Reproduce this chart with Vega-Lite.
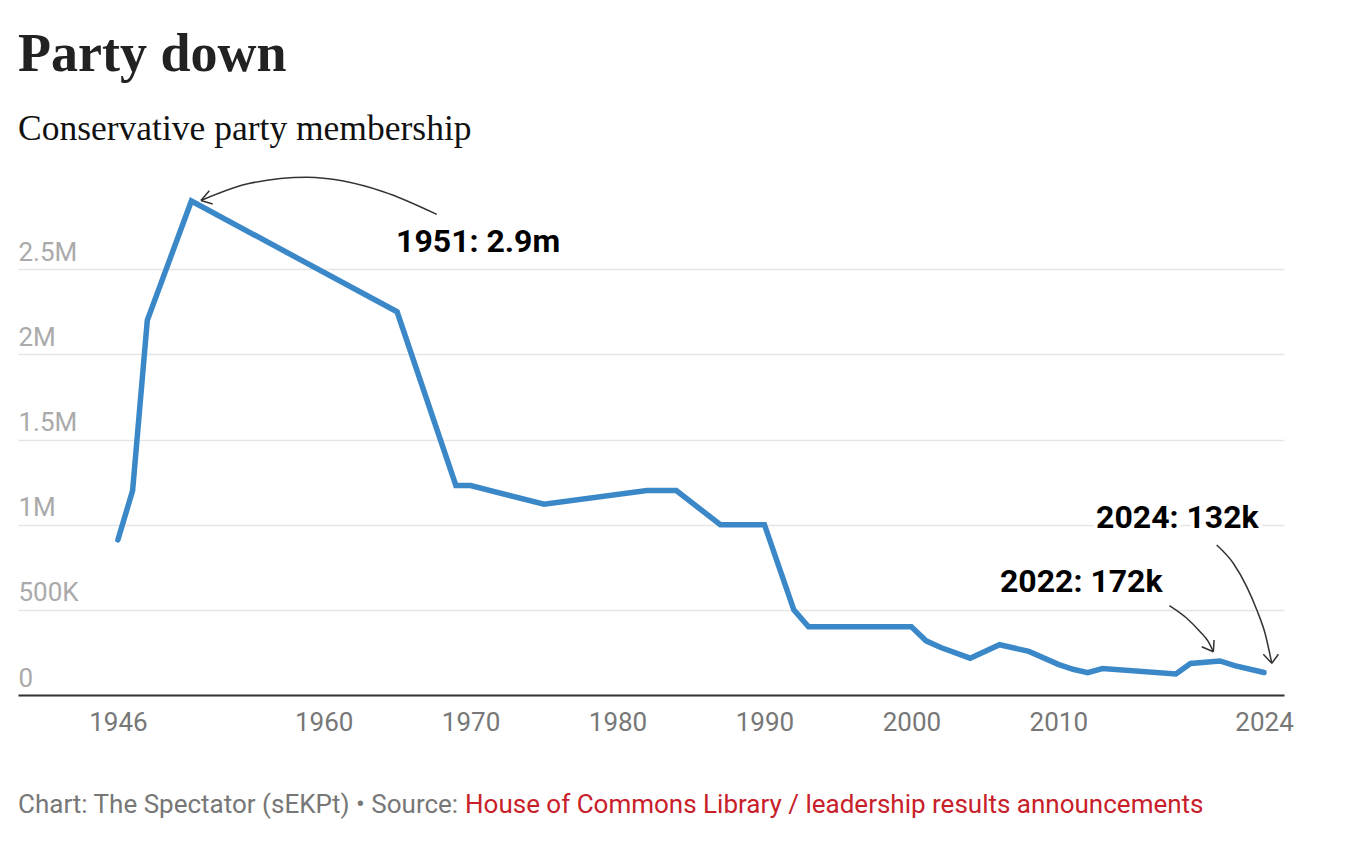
{
  "$schema": "https://vega.github.io/schema/vega-lite/v6.json",
  "width": 1266,
  "height": 511,
  "autosize": {"type": "none"},
  "padding": {"left": 18, "top": 184, "right": 68, "bottom": 165},
  "background": "white",
  "title": {
    "text": "Party down",
    "subtitle": "Conservative party membership",
    "anchor": "start",
    "frame": "group",
    "font": "Liberation Serif",
    "fontSize": 54,
    "fontWeight": "bold",
    "color": "#222222",
    "subtitleFont": "Liberation Serif",
    "subtitleFontSize": 35.5,
    "subtitleColor": "#111111",
    "subtitlePadding": 30,
    "offset": 27
  },
  "config": {"view": {"stroke": null}},
  "datasets": {
    "members": [
      {"year": 1946, "value": 911000},
      {"year": 1947, "value": 1200000},
      {"year": 1948, "value": 2200000},
      {"year": 1951, "value": 2900000},
      {"year": 1965, "value": 2250000},
      {"year": 1969, "value": 1230000},
      {"year": 1970, "value": 1230000},
      {"year": 1975, "value": 1120000},
      {"year": 1982, "value": 1200000},
      {"year": 1984, "value": 1200000},
      {"year": 1987, "value": 1000000},
      {"year": 1990, "value": 1000000},
      {"year": 1992, "value": 500000},
      {"year": 1993, "value": 400000},
      {"year": 2000, "value": 400000},
      {"year": 2001, "value": 318000},
      {"year": 2002, "value": 279000},
      {"year": 2004, "value": 216000},
      {"year": 2006, "value": 295000},
      {"year": 2008, "value": 256000},
      {"year": 2010, "value": 180000},
      {"year": 2011, "value": 151000},
      {"year": 2012, "value": 131000},
      {"year": 2013, "value": 155000},
      {"year": 2018, "value": 124000},
      {"year": 2019, "value": 185000},
      {"year": 2021, "value": 200000},
      {"year": 2022, "value": 172000},
      {"year": 2024, "value": 132000}
    ],
    "labels": [
      {"year": 1964.93, "value": 2601000, "label": "1951: 2.9m"},
      {"year": 2006.03, "value": 606500, "label": "2022: 172k"},
      {"year": 2012.57, "value": 978700, "label": "2024: 132k"}
    ],
    "arrows": [
      {"id": "a1", "year": 1967.70, "value": 2822000},
      {"id": "a1", "year": 1964.06, "value": 2955000},
      {"id": "a1", "year": 1958.85, "value": 3039000},
      {"id": "a1", "year": 1954.99, "value": 3004000},
      {"id": "a1", "year": 1951.65, "value": 2903000},
      {"id": "h1a", "year": 1951.65, "value": 2903000},
      {"id": "h1a", "year": 1952.22, "value": 2961000},
      {"id": "h1b", "year": 1951.65, "value": 2903000},
      {"id": "h1b", "year": 1952.45, "value": 2883000},
      {"id": "a2", "year": 2017.56, "value": 524300},
      {"id": "a2", "year": 2018.74, "value": 450300},
      {"id": "a2", "year": 2019.65, "value": 371600},
      {"id": "a2", "year": 2020.21, "value": 312900},
      {"id": "a2", "year": 2020.55, "value": 254200},
      {"id": "h2a", "year": 2019.76, "value": 283600},
      {"id": "h2a", "year": 2020.55, "value": 254200},
      {"id": "h2b", "year": 2020.55, "value": 254200},
      {"id": "h2b", "year": 2020.60, "value": 322900},
      {"id": "a3", "year": 2020.78, "value": 880600},
      {"id": "a3", "year": 2021.91, "value": 773200},
      {"id": "a3", "year": 2022.82, "value": 635800},
      {"id": "a3", "year": 2023.51, "value": 499000},
      {"id": "a3", "year": 2024.07, "value": 362200},
      {"id": "a3", "year": 2024.53, "value": 186100},
      {"id": "h3a", "year": 2023.95, "value": 238900},
      {"id": "h3a", "year": 2024.53, "value": 186100},
      {"id": "h3b", "year": 2024.53, "value": 186100},
      {"id": "h3b", "year": 2024.98, "value": 238900}
    ]
  },
  "layer": [
    {
      "data": {"name": "members"},
      "mark": {"type": "line", "color": "#3b88c8", "strokeWidth": 5.5, "strokeCap": "round", "clip": false},
      "encoding": {
        "x": {
          "field": "year",
          "type": "quantitative",
          "scale": {"domain": [1939.2, 2025.36], "nice": false, "zero": false},
          "axis": {
            "values": [1946, 1960, 1970, 1980, 1990, 2000, 2010, 2024],
            "format": "d",
            "title": null,
            "grid": false,
            "ticks": false,
            "tickSize": 0,
            "domainColor": "#333333",
            "domainWidth": 2,
            "labelFont": "Roboto",
            "labelFontSize": 26,
            "labelColor": "#777777",
            "labelPadding": 14,
            "labelFlush": false
          }
        },
        "y": {
          "field": "value",
          "type": "quantitative",
          "scale": {"domain": [0, 3000000], "nice": false},
          "axis": {
            "values": [0, 500000, 1000000, 1500000, 2000000, 2500000],
            "labelExpr": "datum.value == 0 ? '0' : datum.value >= 1000000 ? (datum.value / 1000000) + 'M' : (datum.value / 1000) + 'K'",
            "title": null,
            "grid": true,
            "gridColor": "#e5e5e5",
            "gridWidth": 1.5,
            "domain": false,
            "ticks": false,
            "tickSize": 0,
            "labelAlign": "left",
            "labelBaseline": "alphabetic",
            "labelPadding": 0,
            "labelOffset": -9,
            "labelFont": "Roboto",
            "labelFontSize": 26,
            "labelColor": "#aaaaaa"
          }
        }
      }
    },
    {
      "data": {"name": "arrows"},
      "mark": {"type": "line", "color": "#333333", "strokeWidth": 1.5, "interpolate": "monotone", "clip": false},
      "encoding": {
        "x": {"field": "year", "type": "quantitative"},
        "y": {"field": "value", "type": "quantitative"},
        "detail": {"field": "id"}
      }
    },
    {
      "data": {"name": "labels"},
      "mark": {"type": "text", "align": "left", "baseline": "alphabetic", "font": "Roboto", "fontSize": 32, "fontWeight": "bold", "stroke": "white", "strokeWidth": 8, "fill": "white", "clip": false},
      "encoding": {
        "x": {"field": "year", "type": "quantitative"},
        "y": {"field": "value", "type": "quantitative"},
        "text": {"field": "label"}
      }
    },
    {
      "data": {"name": "labels"},
      "mark": {"type": "text", "align": "left", "baseline": "alphabetic", "font": "Roboto", "fontSize": 32, "fontWeight": "bold", "color": "#000000", "clip": false},
      "encoding": {
        "x": {"field": "year", "type": "quantitative"},
        "y": {"field": "value", "type": "quantitative"},
        "text": {"field": "label"}
      }
    },
    {
      "data": {"values": [{"t": "Chart: The Spectator (sEKPt) • Source: "}]},
      "mark": {"type": "text", "x": 0, "y": 629, "align": "left", "baseline": "alphabetic", "font": "Roboto", "fontSize": 26, "color": "#777777", "clip": false},
      "encoding": {"text": {"field": "t"}}
    },
    {
      "data": {"values": [{"t": "House of Commons Library / leadership results announcements"}]},
      "mark": {"type": "text", "x": 447, "y": 629, "align": "left", "baseline": "alphabetic", "font": "Roboto", "fontSize": 26, "color": "#c8202a", "clip": false},
      "encoding": {"text": {"field": "t"}}
    }
  ]
}
